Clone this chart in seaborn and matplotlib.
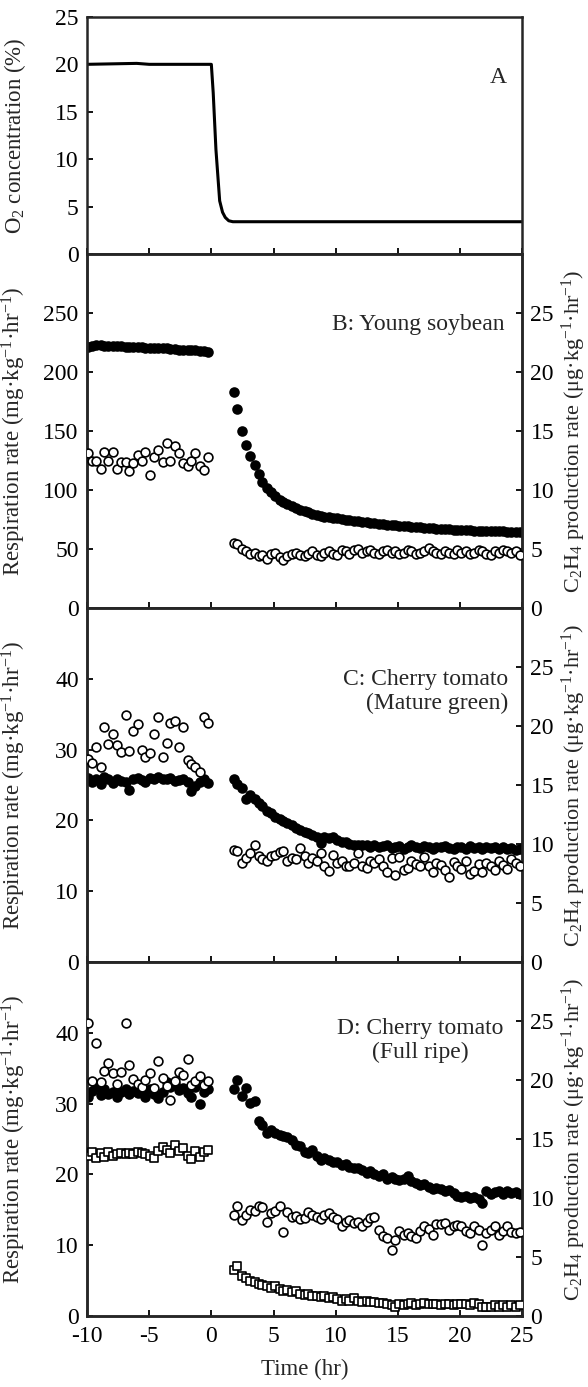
import matplotlib
matplotlib.use('Agg')
import matplotlib.pyplot as plt
import seaborn as sns

# sampling times (hr)
t_pre = [-9.9, -9.6, -9.3, -8.9, -8.6, -8.3, -7.9, -7.6, -7.3, -6.9,
         -6.6, -6.3, -5.9, -5.6, -5.3, -4.9, -4.6, -4.3, -3.9, -3.6,
         -3.3, -2.9, -2.6, -2.3, -1.9, -1.6, -1.3, -0.9, -0.6, -0.3]
t_post = [1.8, 2.1, 2.5, 2.8, 3.1, 3.5, 3.8, 4.1, 4.5, 4.8,
          5.1, 5.5, 5.8, 6.1, 6.5, 6.8, 7.1, 7.5, 7.8, 8.1,
          8.5, 8.8, 9.1, 9.5, 9.8, 10.1, 10.5, 10.8, 11.1, 11.5,
          11.8, 12.1, 12.5, 12.8, 13.1, 13.5, 13.8, 14.1, 14.5, 14.8,
          15.1, 15.5, 15.8, 16.1, 16.5, 16.8, 17.1, 17.5, 17.8, 18.1,
          18.5, 18.8, 19.1, 19.5, 19.8, 20.1, 20.5, 20.8, 21.1, 21.5,
          21.8, 22.1, 22.5, 22.8, 23.1, 23.5, 23.8, 24.1, 24.5, 24.8]

# A: O2 concentration
o2_time = [-10, -6, -5, 0, 0.15, 0.37, 0.67, 0.9, 1.12, 1.4, 1.73, 5, 10, 15, 20, 25]
o2_conc = [20.0, 20.1, 20.0, 20.0, 17.0, 11.0, 5.6, 4.4, 3.85, 3.5, 3.4, 3.4, 3.4, 3.4, 3.4, 3.4]

# B: young soybean
b_resp_pre = [221, 222.5, 223, 223, 222.5, 222.5, 222, 222, 222, 221.5,
              221.5, 221, 221, 221, 220.5, 220.5, 220, 220, 220, 220,
              219.5, 219.5, 219, 219, 219, 218.5, 218.5, 218, 217.5, 217]
b_resp_post = [183, 169, 150, 138, 129, 121, 114, 107, 102, 98,
               95, 92, 90, 88, 86.5, 85, 83.5, 82, 81, 80,
               79, 78.3, 77.6, 77, 76.4, 76, 75.4, 75, 74.4, 73.9,
               73.4, 73, 72.6, 72.2, 71.8, 71.4, 71.1, 70.8, 70.4, 70.1,
               69.8, 69.5, 69.2, 68.9, 68.6, 68.3, 68.1, 67.8, 67.6, 67.4,
               67.1, 66.9, 66.7, 66.5, 66.3, 66.2, 66, 65.9, 65.7, 65.6,
               65.4, 65.3, 65.2, 65.1, 65, 64.9, 64.8, 64.8, 64.7, 64.7]
b_eth_pre = [13.1, 12.5, 12.5, 11.8, 13.2, 12.5, 13.2, 11.8, 12.4, 12.4,
             11.6, 12.3, 13.0, 12.5, 13.2, 11.3, 12.8, 13.4, 12.4, 14.0,
             12.5, 13.7, 13.1, 12.3, 12.0, 12.5, 13.1, 12.0, 11.7, 12.8]
b_eth_post = [5.5, 5.4, 5.0, 4.8, 4.6, 4.7, 4.4, 4.5, 4.2, 4.6,
              4.7, 4.3, 4.1, 4.4, 4.6, 4.7, 4.5, 4.4, 4.6, 4.8,
              4.5, 4.4, 4.7, 4.8, 4.6, 4.5, 4.9, 4.8, 4.6, 4.9,
              5.0, 4.7, 4.8, 4.9, 4.7, 4.6, 4.8, 4.9, 4.7, 4.8,
              4.6, 4.7, 4.9, 4.8, 4.6, 4.7, 4.8, 5.1, 4.8, 4.7,
              4.6, 4.8, 4.7, 4.6, 4.9, 4.7, 4.8, 4.6, 4.7, 4.9,
              4.8, 4.6, 4.5, 4.8, 4.7, 4.9, 4.8, 4.7, 4.8, 4.5]

# C: cherry tomato, mature green
c_resp_pre = [26.0, 25.4, 25.9, 25.2, 26.1, 25.8, 25.3, 25.9, 25.6, 25.5,
              24.3, 25.9, 26.0, 25.7, 25.4, 26.0, 25.8, 26.1, 25.9, 25.8,
              26.0, 25.6, 25.7, 25.9, 25.5, 24.2, 24.8, 25.4, 25.8, 25.3]
c_resp_post = [25.8, 25.2, 24.6, 23.0, 23.6, 23.0, 22.4, 22.0, 21.3, 21.0,
               20.5, 20.2, 19.9, 19.6, 19.3, 18.9, 18.6, 18.3, 18.2, 18.0,
               17.6, 16.8, 17.7, 17.5, 17.6, 17.2, 17.0, 16.9, 16.7, 16.6,
               16.6, 16.5, 16.5, 16.3, 16.6, 16.2, 16.4, 16.5, 16.1, 16.3,
               16.4, 16.0, 16.3, 16.5, 16.2, 16.1, 16.4, 16.2, 16.0, 16.3,
               16.2, 16.4, 16.1, 15.9, 16.3, 16.2, 16.0, 16.4, 16.1, 16.2,
               16.0, 16.3, 16.1, 16.2, 15.9, 16.3, 16.0, 16.1, 15.8, 15.9]
c_eth_pre = [17.2, 16.9, 18.2, 16.5, 19.9, 18.5, 19.3, 18.4, 17.8, 20.9,
             17.9, 19.6, 20.2, 18.0, 17.4, 17.7, 19.3, 20.8, 17.4, 18.6,
             20.3, 20.4, 18.2, 19.9, 17.1, 16.8, 16.5, 16.1, 20.8, 20.3]
c_eth_post = [9.5, 9.4, 8.4, 8.8, 9.2, 9.9, 9.0, 8.7, 8.6, 9.0,
              9.1, 9.3, 9.4, 8.6, 8.8, 8.7, 9.7, 9.0, 8.4, 8.8,
              8.6, 9.2, 8.1, 7.7, 9.1, 8.4, 8.6, 8.1, 8.1, 8.4,
              9.2, 8.1, 8.0, 8.6, 8.4, 8.7, 8.1, 7.6, 8.8, 7.4,
              8.9, 7.8, 8.0, 8.6, 8.3, 8.1, 8.9, 8.1, 7.6, 8.4,
              8.2, 7.8, 7.2, 8.5, 8.1, 7.9, 8.6, 7.5, 7.7, 8.3,
              7.6, 8.4, 8.1, 7.8, 8.6, 8.2, 7.9, 8.7, 8.4, 8.1]

# D: cherry tomato, full ripe
d_resp_pre = [31.0, 31.8, 32.4, 31.2, 32.0, 31.4, 31.7, 30.9, 31.6, 32.1,
              31.3, 31.8, 31.5, 31.9, 31.0, 32.0, 31.4, 30.8, 31.6, 33.0,
              32.4, 32.8, 31.9, 32.2, 31.5, 31.0, 32.3, 30.0, 31.7, 32.0]
d_resp_post = [32.0, 33.3, 31.1, 32.2, 30.1, 30.3, 27.6, 27.0, 25.9, 26.3,
               25.8, 25.6, 25.4, 25.3, 24.9, 24.2, 24.0, 23.2, 23.0, 23.4,
               22.6, 22.0, 22.3, 22.0, 21.8, 21.7, 21.3, 21.4, 21.0, 20.9,
               20.9, 20.6, 20.2, 20.5, 20.0, 19.8, 20.1, 19.4, 19.6, 19.4,
               19.2, 19.4, 19.8, 19.0, 18.8, 18.5, 18.6, 18.2, 18.0, 18.1,
               17.9, 17.6, 17.8, 17.4, 17.0, 16.8, 16.9, 16.6, 16.8, 16.5,
               15.9, 17.6, 17.2, 17.5, 17.7, 17.3, 17.6, 17.4, 17.5, 17.3]
d_eth_pre = [24.8, 19.9, 23.1, 19.8, 20.8, 21.4, 20.6, 19.7, 20.7, 24.8,
             21.3, 20.1, 19.7, 19.4, 20.0, 20.6, 19.3, 21.6, 20.2, 19.5,
             18.3, 19.9, 20.7, 20.4, 21.8, 19.6, 19.9, 20.3, 19.6, 19.9]
d_eth_post = [8.6, 9.3, 8.1, 8.6, 9.0, 8.9, 9.3, 9.2, 8.0, 8.7,
              8.9, 9.3, 7.1, 8.8, 8.4, 8.5, 8.2, 8.3, 8.8, 8.6,
              8.4, 8.2, 8.6, 8.7, 8.4, 8.2, 7.6, 8.0, 8.1, 7.9,
              8.0, 7.6, 8.0, 8.3, 8.4, 7.3, 6.8, 6.6, 5.6, 6.4,
              7.2, 6.9, 7.0, 6.8, 6.6, 7.2, 7.6, 7.4, 6.9, 7.8,
              7.8, 7.9, 7.3, 7.6, 7.7, 7.6, 7.2, 7.0, 7.6, 7.3,
              6.0, 7.0, 7.3, 7.6, 6.9, 7.2, 7.6, 7.1, 7.0, 7.1]
d_sq_pre = [13.6, 13.9, 13.4, 13.8, 13.5, 13.9, 13.6, 13.7, 13.8, 13.7,
            13.8, 13.7, 13.9, 13.8, 13.7, 13.6, 13.4, 14.0, 14.3, 14.1,
            13.8, 14.5, 14.0, 14.2, 13.6, 13.3, 14.0, 13.5, 13.9, 14.1]
d_sq_post = [3.9, 4.2, 3.4, 3.2, 3.0, 2.9, 2.7, 2.6, 2.5, 2.4,
             2.5, 2.3, 2.1, 2.2, 2.0, 2.1, 1.9, 1.8, 1.9, 1.7,
             1.7, 1.6, 1.7, 1.5, 1.6, 1.4, 1.3, 1.4, 1.3, 1.5,
             1.3, 1.2, 1.3, 1.2, 1.2, 1.1, 1.1, 1.0, 0.9, 0.8,
             1.0, 0.9, 1.0, 1.1, 0.9, 1.0, 1.1, 1.0, 1.0, 1.0,
             0.9, 1.0, 1.0, 0.9, 1.0, 1.0, 1.0, 0.9, 1.1, 1.0,
             0.8, 0.8, 0.8, 0.9, 0.8, 0.9, 0.8, 0.9, 0.8, 0.9]

x_ticks = [-10, -5, 0, 5, 10, 15, 20, 25]

sns.set_style('ticks')
plt.rcParams['font.family'] = ['Liberation Serif', 'DejaVu Serif']
plt.rcParams['mathtext.fontset'] = 'custom'
plt.rcParams['mathtext.rm'] = 'Liberation Serif'
plt.rcParams['mathtext.it'] = 'Liberation Serif:italic'
plt.rcParams['font.size'] = 17

resp_label = 'Respiration rate (mg·kg$^{-1}$·hr$^{-1}$)'
eth_label = 'C$_2$H$_4$ production rate (μg·kg$^{-1}$·hr$^{-1}$)'

fig = plt.figure(figsize=(5.88, 13.87), dpi=100)
left, width = 0.148, 0.740


def style_axis(ax, right=False):
    for sp in ax.spines.values():
        sp.set_linewidth(1.8)
        sp.set_visible(True)
    ax.tick_params(axis='both', direction='in', length=4.5, width=1.3,
                   labelsize=17, colors='black')
    ax.tick_params(axis='x', pad=7, top=False)
    ax.tick_params(axis='y', pad=6, left=not right, right=right)


def filled(ax, x, y):
    sns.scatterplot(x=x, y=y, ax=ax, color='black', s=58, linewidth=0, zorder=3)


def hollow(ax, x, y, marker='o', s=40):
    sns.scatterplot(x=x, y=y, ax=ax, marker=marker, color='white', edgecolor='black',
                    linewidth=1.2, s=s, zorder=4)


# panel A
axA = fig.add_axes([left, 0.8169, width, 0.1709])
sns.lineplot(x=o2_time, y=o2_conc, ax=axA, color='black', linewidth=2.2)
axA.set_xlim(-10, 25)
axA.set_ylim(0, 25)
axA.set_xticks(x_ticks)
axA.set_yticks([0, 5, 10, 15, 20, 25])
style_axis(axA)
axA.tick_params(labelbottom=False)
axA.set_ylabel('O$_2$ concentration (%)', fontsize=16.5)
axA.yaxis.set_label_coords(-0.136, 0.5)
axA.text(23.1, 18.6, 'A', fontsize=17, ha='center', va='center')

panels = [
    (0.5616, 300, [0, 50, 100, 150, 200, 250], b_resp_pre, b_resp_post, b_eth_pre, b_eth_post,
     'B: Young soybean', 23.6, 240, 'right'),
    (0.3064, 50, [0, 10, 20, 30, 40], c_resp_pre, c_resp_post, c_eth_pre, c_eth_post,
     'C: Cherry tomato\n(Mature green)', 23.9, 38.2, 'right'),
    (0.0512, 50, [0, 10, 20, 30, 40], d_resp_pre, d_resp_post, d_eth_pre, d_eth_post,
     'D: Cherry tomato\n(Full ripe)', 23.5, 38.9, 'center'),
]

for i, (bottom, ymax, yticks, rp, rq, ep, eq, name, tx, ty, malign) in enumerate(panels):
    ax = fig.add_axes([left, bottom, width, 0.2552])
    axr = ax.twinx()
    filled(ax, t_pre, rp)
    filled(ax, t_post, rq)
    hollow(axr, t_pre, ep)
    hollow(axr, t_post, eq)
    if i == 2:
        hollow(axr, t_pre, d_sq_pre, marker='s', s=32)
        hollow(axr, t_post, d_sq_post, marker='s', s=32)
    ax.set_xlim(-10, 25)
    ax.set_ylim(0, ymax)
    ax.set_xticks(x_ticks)
    ax.set_yticks(yticks)
    axr.set_ylim(0, 30)
    axr.set_yticks([0, 5, 10, 15, 20, 25])
    style_axis(ax)
    style_axis(axr, right=True)
    ax.set_ylabel(resp_label, fontsize=16.5)
    ax.yaxis.set_label_coords(-0.136, 0.5)
    axr.set_ylabel(eth_label, fontsize=16, rotation=90)
    axr.yaxis.set_label_coords(1.086, 0.5)
    ax.text(tx, ty, name, fontsize=17, ha='right', va='center',
            multialignment=malign, linespacing=1.15, zorder=5)
    if i < 2:
        ax.tick_params(labelbottom=False)
    else:
        ax.set_xticklabels([str(v) for v in x_ticks])
        ax.set_xlabel('Time (hr)', fontsize=16.5, labelpad=9)

fig.savefig('out.png', dpi=100)
